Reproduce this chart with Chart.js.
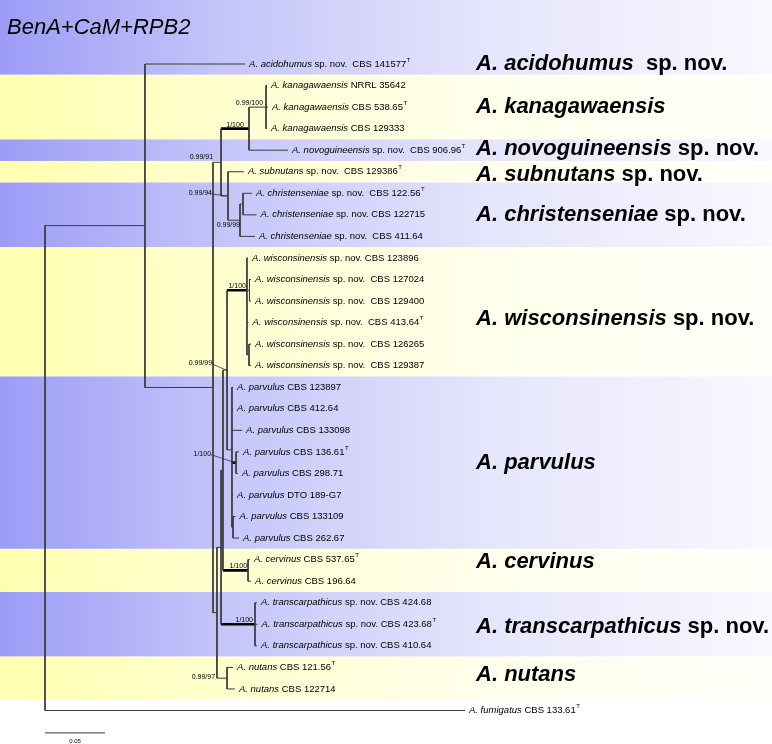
<!DOCTYPE html>
<html><head><meta charset="utf-8">
<script src="https://cdn.jsdelivr.net/npm/chart.js@4.4.0/dist/chart.umd.min.js"></script>
<style>html,body{margin:0;padding:0;background:#fff}#wrap{width:772px;height:744px;position:relative}</style>
</head><body><div id="wrap"><canvas id="c"></canvas></div>
<script>
// ---------------- DATA ----------------
const title = 'BenA+CaM+RPB2';

const tipGenus = [
 'A. acidohumus','A. kanagawaensis','A. kanagawaensis','A. kanagawaensis','A. novoguineensis',
 'A. subnutans','A. christenseniae','A. christenseniae','A. christenseniae',
 'A. wisconsinensis','A. wisconsinensis','A. wisconsinensis','A. wisconsinensis','A. wisconsinensis','A. wisconsinensis',
 'A. parvulus','A. parvulus','A. parvulus','A. parvulus','A. parvulus','A. parvulus','A. parvulus','A. parvulus',
 'A. cervinus','A. cervinus',
 'A. transcarpathicus','A. transcarpathicus','A. transcarpathicus',
 'A. nutans','A. nutans','A. fumigatus'];
const tipStrain = [
 ' sp. nov.  CBS 141577',' NRRL 35642',' CBS 538.65',' CBS 129333',' sp. nov.  CBS 906.96',
 ' sp. nov.  CBS 129386',' sp. nov.  CBS 122.56',' sp. nov. CBS 122715',' sp. nov.  CBS 411.64',
 ' sp. nov. CBS 123896',' sp. nov.  CBS 127024',' sp. nov.  CBS 129400',' sp. nov.  CBS 413.64',' sp. nov.  CBS 126265',' sp. nov.  CBS 129387',
 ' CBS 123897',' CBS 412.64',' CBS 133098',' CBS 136.61',' CBS 298.71',' DTO 189-G7',' CBS 133109',' CBS 262.67',
 ' CBS 537.65',' CBS 196.64',
 ' sp. nov. CBS 424.68',' sp. nov. CBS 423.68',' sp. nov. CBS 410.64',
 ' CBS 121.56',' CBS 122714',' CBS 133.61'];
const tipType = [1,0,1,0,1, 1,1,0,0, 0,0,0,1,0,0, 0,0,0,1,0,0,0,0, 1,0, 0,1,0, 1,0,1];
// distance from root (substitutions/site)
const tipX = [0.1667,0.1850,0.1858,0.1850,0.2025,
 0.1658,0.1725,0.1763,0.1750,
 0.1692,0.1717,0.1717,0.1696,0.1717,0.1717,
 0.1567,0.1567,0.1642,0.1617,0.1608,0.1567,0.1588,0.1617,
 0.1708,0.1717,
 0.1767,0.1771,0.1767,
 0.1567,0.1583,0.3500];

const nodeNames = ['root','A','B','N91','KN','K','SC','C1','C2','D','WPCT','WPC','WP','W','W1','W2','P','Pair','Sub','Cerv','T','Nut'];
const nodeX =     [0,0.0833,0.1400,0.1467,0.1700,0.1842,0.1525,0.1625,0.1650,0.1433,0.1467,0.1483,0.1517,0.1683,0.1704,0.1700,0.1558,0.1592,0.1567,0.1692,0.1750,0.1517];
const nodeRow =   [19.75,8.5,16.01,5.56,4,3,7.125,8.25,7.5,26.46,23.43,19.85,15.2,11.5,11.5,14.5,18.9,19.5,22.5,24.5,27,29.5];
const nodeKids = [
 ['A','t31'],['t1','B'],['N91','D'],['KN','SC'],['K','t5'],['t2','t3','t4'],
 ['t6','C1'],['C2','t9'],['t7','t8'],['WPCT','Nut'],['WPC','T'],['WP','Cerv'],['W','P'],
 ['t10','W1','t13','W2'],['t11','t12'],['t14','t15'],
 ['t16','t17','t18','Pair','t21','Sub'],['t19','t20'],['t22','t23'],
 ['t24','t25'],['t26','t27','t28'],['t29','t30']];
const thickStems = ['KN','W','Pair','Cerv','T'];

const supportText = ['0.99/100','1/100','0.99/91','0.99/94','0.99/99','1/100','0.99/99','1/100','1/100','1/100','0.99/97'];
const supportNode = ['K','KN','N91','SC','C1','W','WP','Pair','Cerv','T','Nut'];

const cladeName = ['A. acidohumus','A. kanagawaensis','A. novoguineensis','A. subnutans','A. christenseniae','A. wisconsinensis','A. parvulus','A. cervinus','A. transcarpathicus','A. nutans'];
const cladeSuffix = ['  sp. nov.','',' sp. nov.',' sp. nov.',' sp. nov.',' sp. nov.','','',' sp. nov.',''];
const cladeRow = [1,3,4.95,6.15,8.0,12.85,19.5,24.1,27.1,29.35];
const bandFrom = [null,2,5,6,7,10,16,24,26,29];
const bandTo =   [1,4,5,6,9,15,23,25,28,30];
const bandTone = ['blue','yellow','blue','yellow','blue','yellow','blue','yellow','blue','yellow'];

const scaleBarLength = 0.05;
const scaleBarLabel = '0.05';

// ---------------- LAYOUT / STYLE ----------------
const FONT = '"Liberation Sans", Arial, Helvetica, sans-serif';
const layoutCfg = {
  xMin: -0.0375, xMax: 0.605833, yMin: -1.97, yMax: 32.555,
  cladeLabelX: 0.3592, scaleBarRow: 32.04, scaleBarLabelRow: 32.42
};
// placement of support labels relative to their node (pixels)
const supportLayout = [
  {dx:-3, dy:-2, align:'right', base:'alphabetic'},
  {mid:true, dy:-2, align:'center', base:'alphabetic'},
  {dx:-8, dy:-3, align:'right', base:'alphabetic'},
  {dx:-16, dy:-3, align:'right', base:'middle', leader:true},
  {dx:0, dy:1, align:'right', base:'top'},
  {dx:-1, dy:-2, align:'right', base:'alphabetic'},
  {dx:-15, dy:-7, align:'right', base:'middle', leader:true},
  {dx:-25, dy:-9, align:'right', base:'middle', leader:true},
  {dx:-1, dy:-2, align:'right', base:'alphabetic'},
  {dx:-2, dy:-2, align:'right', base:'alphabetic'},
  {dx:-12, dy:-1, align:'right', base:'middle'}
];

// ---------------- TREE GEOMETRY ----------------
function isTip(id){ return /^t\d+$/.test(id); }
function getX(id){ return isTip(id) ? tipX[+id.slice(1)-1] : nodeX[nodeNames.indexOf(id)]; }
function getRow(id){ return isTip(id) ? +id.slice(1) : nodeRow[nodeNames.indexOf(id)]; }

const thin = [], thick = [];
nodeNames.forEach((n, i) => {
  const kids = nodeKids[i];
  const rows = kids.map(getRow);
  const x = nodeX[i];
  thin.push({x, y: Math.min(...rows)}, {x, y: Math.max(...rows)}, {x, y: null});
  kids.forEach(k => {
    const t = thickStems.includes(k) ? thick : thin;
    t.push({x, y: getRow(k)}, {x: getX(k), y: getRow(k)}, {x, y: null});
  });
});
const scaleBar = [{x:0, y:layoutCfg.scaleBarRow},{x:scaleBarLength, y:layoutCfg.scaleBarRow}];

// ---------------- PLUGINS ----------------
const bgPlugin = {
  id: 'bands',
  beforeDatasetsDraw(chart){
    const {ctx, scales:{y}, width} = chart;
    ctx.save();
    ctx.fillStyle = '#fff'; ctx.fillRect(0,0,width,chart.height);
    const gB = ctx.createLinearGradient(0,0,width,0);
    gB.addColorStop(0,'#9c9cf7'); gB.addColorStop(0.3,'#c6c6fa'); gB.addColorStop(0.65,'#e6e6fc'); gB.addColorStop(1,'#f8f8ff');
    const gY = ctx.createLinearGradient(0,0,width,0);
    gY.addColorStop(0,'#ffffb0'); gY.addColorStop(0.3,'#ffffd0'); gY.addColorStop(0.6,'#ffffea'); gY.addColorStop(1,'#fffffa');
    bandFrom.forEach((f, i) => {
      const top = f === null ? 0 : y.getPixelForValue(f - 0.5);
      const bot = y.getPixelForValue(bandTo[i] + 0.5);
      ctx.fillStyle = bandTone[i] === 'blue' ? gB : gY;
      ctx.fillRect(0, top, width, bot - top);
    });
    ctx.restore();
  }
};

const textPlugin = {
  id: 'texts',
  afterDatasetsDraw(chart){
    const {ctx, scales:{x, y}} = chart;
    ctx.save();
    ctx.fillStyle = '#000';
    // title
    ctx.font = 'italic 22px ' + FONT;
    ctx.textBaseline = 'alphabetic'; ctx.textAlign = 'left';
    ctx.fillText(title, 7, 34);
    // tip labels
    tipGenus.forEach((g, i) => {
      let px = x.getPixelForValue(tipX[i]) + 4;
      const py = y.getPixelForValue(i + 1);
      ctx.textBaseline = 'middle';
      ctx.font = 'italic 9.5px ' + FONT;
      ctx.fillText(g, px, py); px += ctx.measureText(g).width;
      ctx.font = '9.5px ' + FONT;
      ctx.fillText(tipStrain[i], px, py); px += ctx.measureText(tipStrain[i]).width;
      if (tipType[i]) { ctx.font = '6px ' + FONT; ctx.fillText('T', px + 0.5, py - 4); }
    });
    // support values
    ctx.font = '7px ' + FONT;
    ctx.strokeStyle = '#333'; ctx.lineWidth = 0.8;
    supportText.forEach((s, i) => {
      const n = nodeNames.indexOf(supportNode[i]);
      const L = supportLayout[i];
      const nx = x.getPixelForValue(nodeX[n]), ny = y.getPixelForValue(nodeRow[n]);
      let tx;
      if (L.mid) {
        const p = nodeKids.findIndex(k => k.includes(supportNode[i]));
        tx = (x.getPixelForValue(nodeX[p]) + nx) / 2;
      } else tx = nx + L.dx;
      const ty = ny + L.dy;
      ctx.textAlign = L.align; ctx.textBaseline = L.base;
      ctx.fillText(s, tx, ty);
      if (L.leader) {
        ctx.beginPath(); ctx.moveTo(tx, ty + 1); ctx.lineTo(nx - 1, ny); ctx.stroke();
      }
    });
    // clade labels
    const cx = x.getPixelForValue(layoutCfg.cladeLabelX);
    ctx.textAlign = 'left'; ctx.textBaseline = 'middle';
    cladeName.forEach((c, i) => {
      const py = y.getPixelForValue(cladeRow[i]);
      ctx.font = 'italic bold 22px ' + FONT;
      ctx.fillText(c, cx, py);
      const w = ctx.measureText(c).width;
      ctx.font = 'bold 22px ' + FONT;
      ctx.fillText(cladeSuffix[i], cx + w, py);
    });
    // scale bar label
    ctx.font = '6px ' + FONT; ctx.textAlign = 'center';
    ctx.fillText(scaleBarLabel, x.getPixelForValue(scaleBarLength/2), y.getPixelForValue(layoutCfg.scaleBarLabelRow));
    ctx.restore();
  }
};

new Chart(document.getElementById('c'), {
  type: 'scatter',
  data: { datasets: [
    { data: thin, showLine: true, borderColor: '#3a3a3a', borderWidth: 1, pointRadius: 0, spanGaps: false, clip: false },
    { data: thick, showLine: true, borderColor: '#000', borderWidth: 2.6, pointRadius: 0, spanGaps: false, clip: false },
    { data: scaleBar, showLine: true, borderColor: '#3a3a3a', borderWidth: 1, pointRadius: 0, clip: false }
  ]},
  options: {
    responsive: true, maintainAspectRatio: false, animation: false, events: [],
    layout: { padding: 0 },
    plugins: { legend: { display: false }, tooltip: { enabled: false } },
    scales: {
      x: { type: 'linear', display: false, min: layoutCfg.xMin, max: layoutCfg.xMax },
      y: { type: 'linear', display: false, reverse: true, min: layoutCfg.yMin, max: layoutCfg.yMax }
    }
  },
  plugins: [bgPlugin, textPlugin]
});
</script>
</body></html>
